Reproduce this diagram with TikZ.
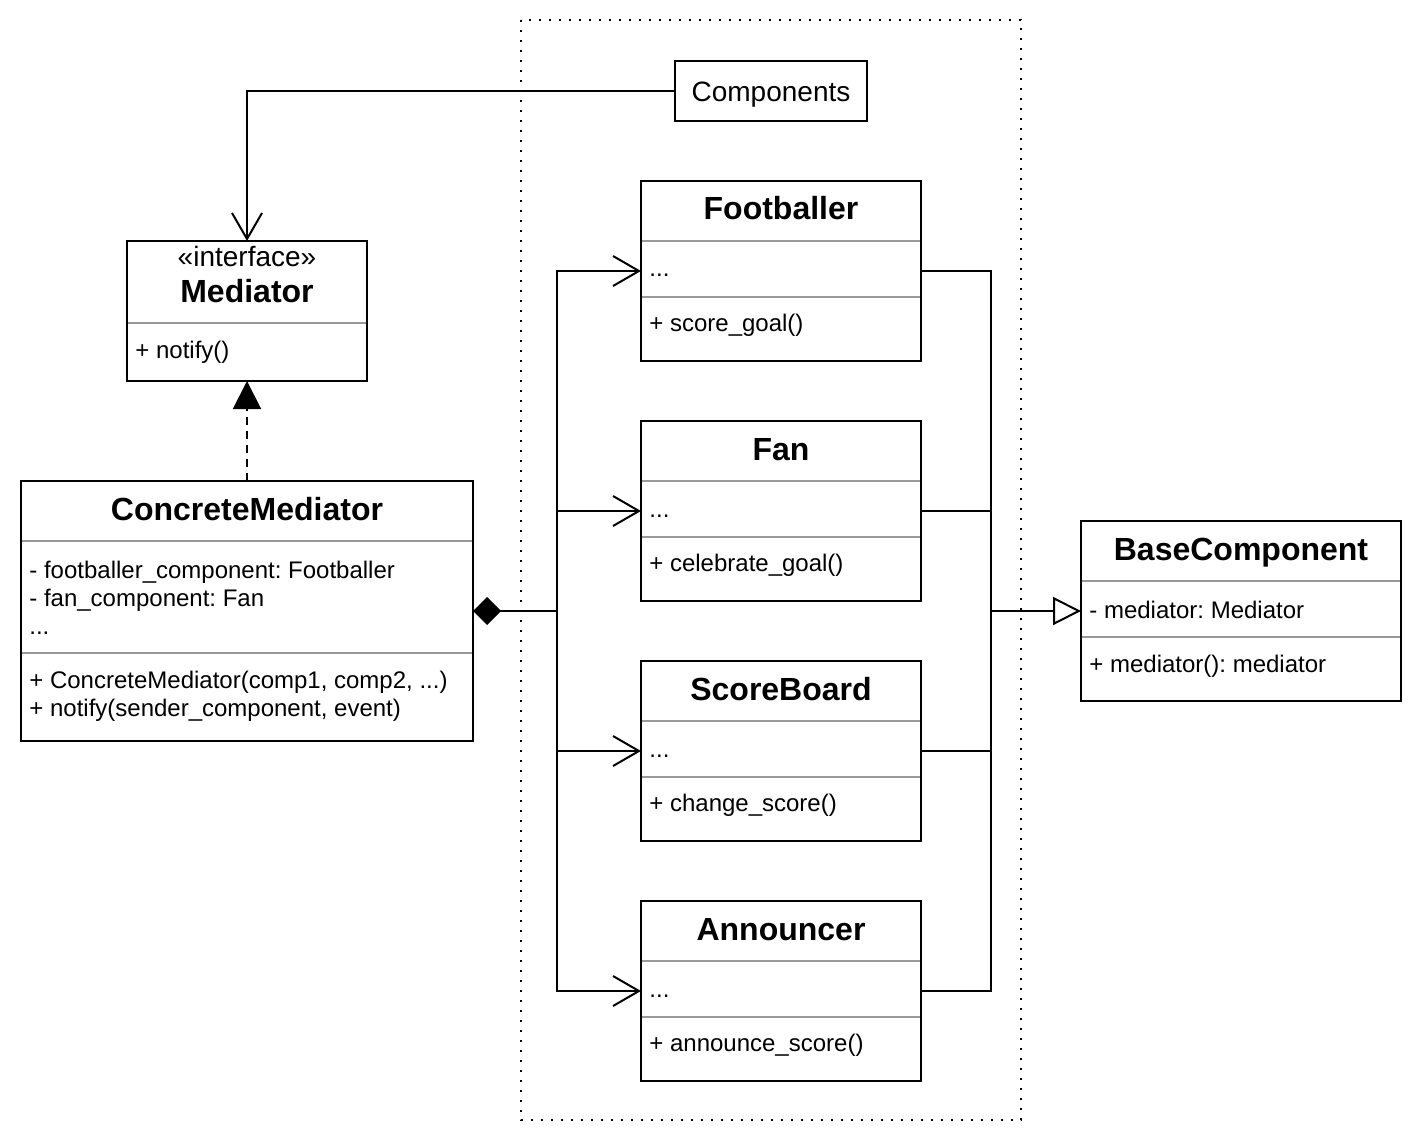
\documentclass[tikz,border=0pt]{standalone}
\usepackage{fontspec}
\setmainfont{Liberation Sans}
\usetikzlibrary{arrows.meta}
\frenchspacing
\begin{document}
\begin{tikzpicture}[x=0.5pt,y=-0.5pt,
  box/.style={draw=black, line width=1pt, fill=white, inner sep=0pt, outer sep=0pt, anchor=north west},
  sep/.style={draw=black!40, line width=1pt},
  ttl/.style={font=\fontsize{16}{19.2}\selectfont\bfseries, anchor=base, inner sep=0pt},
  txt/.style={font=\fontsize{12}{14.4}\selectfont, anchor=base west, inner sep=0pt},
  big/.style={font=\fontsize{14}{16.8}\selectfont, anchor=base, inner sep=0pt},
  conn/.style={draw=black, line width=1pt},
  barb/.style={-{Straight Barb[length=13pt,width=15pt,line width=1pt]}},
]
\useasboundingbox (0,0) rectangle (1422,1144);
\fill[white] (0,0) rectangle (1422,1144);

% dotted group frame
\draw[line width=1pt, dash pattern=on 1pt off 4pt] (521,20) rectangle (1021,1120);

% boxes
\node[box, minimum width=96pt, minimum height=30pt] (comp) at (675,61) {};
\node[big] (compt) at (771,102) {Components};

\node[box, minimum width=120pt, minimum height=70pt] (med) at (127,241) {};
\node[big] (medst) at (247,267) {«interface»};
\node[ttl] (medt) at (247,303) {Mediator};
\draw[sep] (128,323) -- (366,323);
\node[txt] (med1) at (135,358) {+ notify()};

\node[box, minimum width=226pt, minimum height=130pt] (cm) at (21,481) {};
\node[ttl] (cmt) at (247,520) {ConcreteMediator};
\draw[sep] (22,541) -- (472,541);
\node[txt] (cm1) at (29,578) {- footballer\_component: Footballer};
\node[txt] (cm2) at (29,606) {- fan\_component: Fan};
\node[txt] (cm3) at (29,634) {...};
\draw[sep] (22,653) -- (472,653);
\node[txt] (cm4) at (29,688) {+ ConcreteMediator(comp1, comp2, ...)};
\node[txt] (cm5) at (29,716) {+ notify(sender\_component, event)};

\newcommand{\compclass}[4]{%
  \node[box, minimum width=140pt, minimum height=90pt] (#1) at (641,#2) {};
  \node[ttl] (#1-t) at (781,#2+39) {#3};
  \draw[sep] (642,#2+60) -- (920,#2+60);
  \node[txt] (#1-a) at (649,#2+96) {...};
  \draw[sep] (642,#2+116) -- (920,#2+116);
  \node[txt] (#1-m) at (649,#2+150) {#4};
}
\compclass{foot}{181}{Footballer}{+ score\_goal()}
\compclass{fan}{421}{Fan}{+ celebrate\_goal()}
\compclass{score}{661}{ScoreBoard}{+ change\_score()}
\compclass{ann}{901}{Announcer}{+ announce\_score()}

\node[box, minimum width=160pt, minimum height=90pt] (base) at (1081,521) {};
\node[ttl] (baset) at (1241,560) {BaseComponent};
\draw[sep] (1082,581) -- (1400,581);
\node[txt] (base1) at (1089,618) {- mediator: Mediator};
\draw[sep] (1082,637) -- (1400,637);
\node[txt] (base2) at (1089,672) {+ mediator(): mediator};

% connectors
\coordinate (jl) at (557,611);
\coordinate (jr) at (991,611);

\draw[conn, barb] (comp.west) -| (med.north);
\draw[conn, dash pattern=on 4pt off 3pt, -{Triangle[length=14pt,width=14pt]}] (cm.north) -- (med.south);
\draw[conn, {Diamond[length=14pt,width=14pt]}-] (cm.east) -- (jl);
\draw[conn, barb] (jl) |- (foot.west);
\draw[conn, barb] (jl) |- (fan.west);
\draw[conn, barb] (jl) |- (score.west);
\draw[conn, barb] (jl) |- (ann.west);
\draw[conn] (foot.east) -| (jr);
\draw[conn] (fan.east) -| (jr);
\draw[conn] (score.east) -| (jr);
\draw[conn] (ann.east) -| (jr);
\draw[conn, -{Triangle[open,length=14pt,width=14pt,fill=white]}] (jr) -- (base.west);
\end{tikzpicture}
\end{document}
